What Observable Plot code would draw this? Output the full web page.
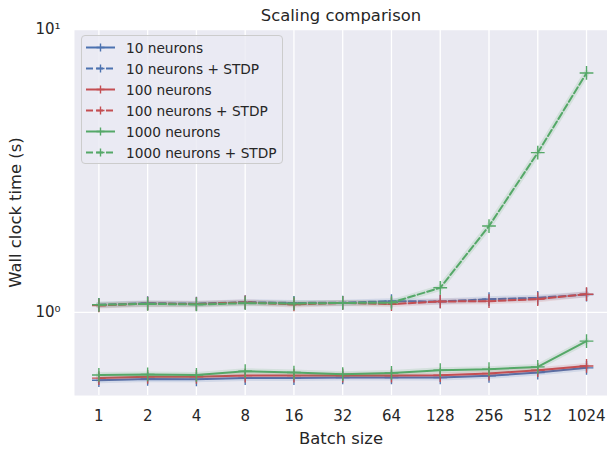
<!DOCTYPE html>
<html><head><meta charset="utf-8">
<script src="https://cdn.jsdelivr.net/npm/d3@7"></script>
<script src="https://cdn.jsdelivr.net/npm/@observablehq/plot@0.6"></script>
<style>
body{margin:0;background:#fff;font-family:"DejaVu Sans",sans-serif;}
#wrap{position:relative;width:607px;height:449px;overflow:hidden}
#legend{position:absolute;left:81px;top:35px;width:200px;height:126px;border:1px solid #cccccc;border-radius:4px;background:rgba(234,234,242,0.8);padding-top:1px;}
.row{height:21px;display:flex;align-items:center;font-size:13.7px;color:#262626;white-space:nowrap}
.row svg{margin-left:4px;margin-right:10px;flex:none}
</style></head><body><div id="wrap"><div id="legend"></div></div>
<script>
const batchSizes = [1, 2, 4, 8, 16, 32, 64, 128, 256, 512, 1024];
const seriesNames = ["10 neurons", "10 neurons + STDP", "100 neurons", "100 neurons + STDP", "1000 neurons", "1000 neurons + STDP"];
const n10      = [0.576, 0.582, 0.580, 0.586, 0.586, 0.589, 0.589, 0.589, 0.597, 0.613, 0.637];
const n10stdp  = [1.064, 1.078, 1.074, 1.087, 1.080, 1.083, 1.096, 1.093, 1.114, 1.126, 1.157];
const n100     = [0.586, 0.592, 0.592, 0.598, 0.598, 0.598, 0.598, 0.600, 0.608, 0.625, 0.647];
const n100stdp = [1.058, 1.074, 1.070, 1.085, 1.067, 1.080, 1.070, 1.093, 1.096, 1.114, 1.160];
const n1000    = [0.601, 0.604, 0.601, 0.620, 0.613, 0.605, 0.611, 0.625, 0.630, 0.642, 0.792];
const n1000stdp= [1.064, 1.072, 1.067, 1.078, 1.076, 1.080, 1.083, 1.222, 2.02, 3.67, 7.02];
const yTicks = [1, 10];
const yTickLabels = ["10\u2070", "10\u00B9"];

const seriesValues = [n10, n10stdp, n100, n100stdp, n1000, n1000stdp];
const colors = ["#4C72B0", "#4C72B0", "#C44E52", "#C44E52", "#55A868", "#55A868"];
const dashed = [false, true, false, true, false, true];

const marks = [
  Plot.frame({fill: "#EAEAF2", stroke: null}),
  Plot.gridX({ticks: batchSizes, stroke: "white", strokeOpacity: 1, strokeWidth: 1.3}),
  Plot.gridY({ticks: yTicks, stroke: "white", strokeOpacity: 1, strokeWidth: 1.3})
];
seriesNames.forEach((name, i) => {
  const data = batchSizes.map((b, j) => ({batch: b, value: seriesValues[i][j]}));
  marks.push(Plot.line(data, {x: "batch", y: "value", stroke: colors[i], strokeWidth: 6, strokeOpacity: 0.15}));
  marks.push(Plot.line(data, {x: "batch", y: "value", stroke: colors[i], strokeWidth: 2, strokeDasharray: dashed[i] ? "7,3" : null}));
  marks.push(Plot.dot(data, {x: "batch", y: "value", symbol: "plus", stroke: colors[i], r: 4.5, strokeWidth: 1.4}));
});
marks.push(
  Plot.axisX({ticks: batchSizes, tickFormat: d => String(d), tickSize: 0, tickPadding: 15, fontSize: 15, label: null, color: "#262626"}),
  Plot.axisX({ticks: [], label: "Batch size", labelAnchor: "center", labelArrow: "none", labelOffset: 48, fontSize: 16.4, color: "#262626"}),
  Plot.axisY({ticks: yTicks, tickFormat: d => yTickLabels[yTicks.indexOf(d)], tickSize: 0, tickPadding: 14, fontSize: 15, label: null, color: "#262626"}),
  Plot.axisY({ticks: [], label: "Wall clock time (s)", labelAnchor: "center", labelArrow: "none", labelOffset: 65, fontSize: 16.4, color: "#262626"}),
  Plot.text(["Scaling comparison"], {frameAnchor: "top", text: d => d, dy: -8.5, lineAnchor: "bottom", fontSize: 16.4, fill: "#262626"})
);

const chart = Plot.plot({
  width: 607, height: 449,
  marginLeft: 74, marginRight: 0, marginTop: 29, marginBottom: 54,
  style: {fontFamily: "DejaVu Sans, sans-serif", background: "white", overflow: "hidden"},
  x: {type: "log", base: 2, domain: [Math.SQRT1_2, Math.pow(2, 10.43)]},
  y: {type: "log", domain: [0.5086, 10]},
  marks
});
const wrap = document.getElementById("wrap");
wrap.insertBefore(chart, wrap.firstChild);

const legend = document.getElementById("legend");
seriesNames.forEach((name, i) => {
  const row = document.createElement("div");
  row.className = "row";
  const ns = "http://www.w3.org/2000/svg";
  const s = document.createElementNS(ns, "svg");
  s.setAttribute("width", "30"); s.setAttribute("height", "21");
  const ln = document.createElementNS(ns, "line");
  ln.setAttribute("x1", "0"); ln.setAttribute("x2", "29"); ln.setAttribute("y1", "10.5"); ln.setAttribute("y2", "10.5");
  ln.setAttribute("stroke", colors[i]); ln.setAttribute("stroke-width", "2");
  if (dashed[i]) ln.setAttribute("stroke-dasharray", "7,3");
  const pl = document.createElementNS(ns, "path");
  pl.setAttribute("d", "M14.5,6.5V14.5M10.5,10.5H18.5");
  pl.setAttribute("stroke", colors[i]); pl.setAttribute("stroke-width", "1.4"); pl.setAttribute("fill", "none");
  s.appendChild(ln); s.appendChild(pl);
  row.appendChild(s);
  const t = document.createElement("span");
  t.textContent = name;
  row.appendChild(t);
  legend.appendChild(row);
});
</script></body></html>
